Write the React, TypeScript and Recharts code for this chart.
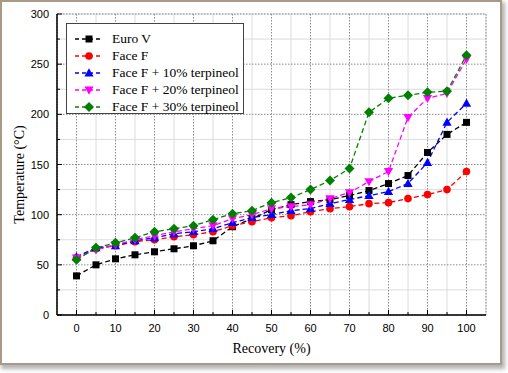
import React from 'react';
import { LineChart, Line, XAxis, YAxis, CartesianGrid, Legend } from 'recharts';

const recovery = [0, 5, 10, 15, 20, 25, 30, 35, 40, 45, 50, 55, 60, 65, 70, 75, 80, 85, 90, 95, 100];
const euroV = [39, 50, 56, 60, 63, 66, 69, 74, 88, 96, 105, 110, 113, 115, 119, 124, 131, 139, 162, 180, 192];
const faceF = [57, 66, 69, 73, 75, 78, 80, 83, 89, 93, 97, 99, 103, 106, 108, 111, 112, 116, 120, 125, 143];
const faceF10 = [58, 67, 69, 74, 77, 81, 83, 86, 92, 97, 100, 104, 106, 111, 115, 119, 123, 131, 152, 192, 211];
const faceF20 = [57, 65, 70, 75, 79, 83, 86, 89, 96, 100, 106, 108, 110, 116, 122, 133, 143, 197, 216, 221, 255];
const faceF30 = [55, 67, 72, 77, 83, 86, 89, 95, 101, 104, 112, 117, 125, 134, 146, 202, 216, 219, 222, 223, 259];

const xTicks = [0, 5, 10, 15, 20, 25, 30, 35, 40, 45, 50, 55, 60, 65, 70, 75, 80, 85, 90, 95, 100];
const xMajor = [0, 10, 20, 30, 40, 50, 60, 70, 80, 90, 100];
const xMinor = [5, 15, 25, 35, 45, 55, 65, 75, 85, 95];
const yTicks = [0, 25, 50, 75, 100, 125, 150, 175, 200, 225, 250, 275, 300];
const yMajor = [0, 50, 100, 150, 200, 250, 300];
const yMinor = [25, 75, 125, 175, 225, 275];

const series = [
  { key: 'euroV', name: 'Euro V', color: '#000000', shape: 'square', values: euroV },
  { key: 'faceF', name: 'Face F', color: '#ff0000', shape: 'circle', values: faceF },
  { key: 'faceF10', name: 'Face F + 10% terpineol', color: '#0000ff', shape: 'up', values: faceF10 },
  { key: 'faceF20', name: 'Face F + 20% terpineol', color: '#ff00ff', shape: 'down', values: faceF20 },
  { key: 'faceF30', name: 'Face F + 30% terpineol', color: '#008000', shape: 'diamond', values: faceF30 },
];

const data = recovery.map((r, i) => {
  const row: any = { r };
  series.forEach((s) => {
    row[s.key] = s.values[i];
  });
  return row;
});

const SANS = '"Liberation Sans", Arial, sans-serif';
const SERIF = '"Liberation Serif", "Times New Roman", serif';

function Marker({ shape, cx, cy, color }: { shape: string; cx: number; cy: number; color: string }) {
  switch (shape) {
    case 'square':
      return <rect x={cx - 3.5} y={cy - 3.5} width={7} height={7} fill={color} />;
    case 'circle':
      return <circle cx={cx} cy={cy} r={3.8} fill={color} />;
    case 'up':
      return <polygon points={`${cx},${cy - 4.8} ${cx + 4.6},${cy + 3.4} ${cx - 4.6},${cy + 3.4}`} fill={color} />;
    case 'down':
      return <polygon points={`${cx},${cy + 4.8} ${cx + 4.6},${cy - 3.4} ${cx - 4.6},${cy - 3.4}`} fill={color} />;
    default:
      return <polygon points={`${cx},${cy - 5} ${cx + 5},${cy} ${cx},${cy + 5} ${cx - 5},${cy}`} fill={color} />;
  }
}

const BottomTick = (p: any) => {
  const v = p.payload.value;
  const major = v % 10 === 0;
  return (
    <g>
      <line x1={p.x} x2={p.x} y1={p.y} y2={p.y - (major ? 5 : 3)} stroke="#000" strokeWidth={1} />
      {major && (
        <text x={p.x} y={p.y + 17} textAnchor="middle" fontSize={11} fontFamily={SANS} fill="#000">
          {v}
        </text>
      )}
    </g>
  );
};

const TopTick = (p: any) => {
  const v = p.payload.value;
  const major = v % 10 === 0;
  return <line x1={p.x} x2={p.x} y1={p.y} y2={p.y + (major ? 5 : 3)} stroke="#000" strokeWidth={1} />;
};

const LeftTick = (p: any) => {
  const v = p.payload.value;
  const major = v % 50 === 0;
  return (
    <g>
      <line x1={p.x} x2={p.x + (major ? 5 : 3)} y1={p.y} y2={p.y} stroke="#000" strokeWidth={1} />
      {major && (
        <text x={p.x - 8} y={p.y + 4} textAnchor="end" fontSize={11} fontFamily={SANS} fill="#000">
          {v}
        </text>
      )}
    </g>
  );
};

const RightTick = (p: any) => {
  const v = p.payload.value;
  const major = v % 50 === 0;
  return <line x1={p.x} x2={p.x - (major ? 5 : 3)} y1={p.y} y2={p.y} stroke="#000" strokeWidth={1} />;
};

const renderLegend = (props: any) => {
  const payload: any[] = props.payload || [];
  return (
    <div
      style={{
        width: 178,
        height: 91,
        boxSizing: 'border-box',
        border: '1px solid #444',
        background: '#fff',
        paddingTop: 6,
      }}
    >
      {payload.map((item: any) => {
        const s = series.find((x) => x.key === item.dataKey) || series[0];
        return (
          <div key={s.key} style={{ height: 17.2, display: 'flex', alignItems: 'center' }}>
            <svg width={28} height={14} style={{ marginLeft: 8, marginRight: 9, flex: 'none' }}>
              <line x1={0} x2={28} y1={7} y2={7} stroke={s.color} strokeWidth={1.3} strokeDasharray="4 3" />
              <Marker shape={s.shape} cx={14} cy={7} color={s.color} />
            </svg>
            <span style={{ fontFamily: SERIF, fontSize: 13.5, color: '#000', whiteSpace: 'nowrap', lineHeight: '14px' }}>
              {item.value}
            </span>
          </div>
        );
      })}
    </div>
  );
};

export default function App() {
  return (
    <div style={{ position: 'absolute', left: 0, top: 0, width: 508, height: 373, background: '#fff' }}>
      <div
        style={{
          position: 'absolute',
          left: 0,
          top: 0,
          width: 502,
          height: 365,
          boxSizing: 'border-box',
          border: '2px solid #a89a86',
          background: '#fff',
          boxShadow: '2px 3px 4px 1px rgba(0,0,0,0.3)',
        }}
      />
      <div style={{ position: 'absolute', left: 0, top: 0 }}>
        <LineChart width={508} height={373} data={data} margin={{ top: 14, right: 22, bottom: 0, left: 0 }}>
          <XAxis xAxisId="gx1" dataKey="r" type="number" domain={[-5, 105]} ticks={xMajor} interval={0} hide allowDataOverflow />
          <XAxis xAxisId="gx2" dataKey="r" type="number" domain={[-5, 105]} ticks={xMinor} interval={0} hide allowDataOverflow />
          <YAxis yAxisId="gy1" type="number" domain={[0, 300]} ticks={yMajor} interval={0} hide allowDataOverflow />
          <YAxis yAxisId="gy2" type="number" domain={[0, 300]} ticks={yMinor} interval={0} hide allowDataOverflow />
          <CartesianGrid xAxisId="gx2" yAxisId="gy2" stroke="#dcdcdc" strokeWidth={1} fill="none" />
          <CartesianGrid xAxisId="gx1" yAxisId="gy1" stroke="#8a8a8a" strokeWidth={1} strokeDasharray="1.5 1.5" fill="none" />
          <XAxis
            dataKey="r"
            type="number"
            domain={[-5, 105]}
            ticks={xTicks}
            interval={0}
            height={58}
            tickLine={false}
            tickSize={0}
            tickMargin={0}
            tick={BottomTick}
            axisLine={{ stroke: '#000', strokeWidth: 1.5 }}
            allowDataOverflow
            label={{
              content: (lp: any) => {
                const vb = lp.viewBox || {};
                return (
                  <text x={vb.x + vb.width / 2} y={vb.y + 38} textAnchor="middle" fontFamily={SERIF} fontSize={14} fill="#000">
                    Recovery (%)
                  </text>
                );
              },
            }}
          />
          <XAxis
            xAxisId="top"
            orientation="top"
            dataKey="r"
            type="number"
            domain={[-5, 105]}
            ticks={xTicks}
            interval={0}
            height={0}
            tickLine={false}
            tickSize={0}
            tickMargin={0}
            tick={TopTick}
            axisLine={{ stroke: '#000', strokeWidth: 1.5 }}
            allowDataOverflow
          />
          <YAxis
            type="number"
            domain={[0, 300]}
            ticks={yTicks}
            interval={0}
            width={57}
            tickLine={false}
            tickSize={0}
            tickMargin={0}
            tick={LeftTick}
            axisLine={{ stroke: '#000', strokeWidth: 1.5 }}
            allowDataOverflow
            label={{
              content: (lp: any) => {
                const vb = lp.viewBox || {};
                const cx = vb.x + 19;
                const cy = vb.y + vb.height / 2 + 10;
                return (
                  <text
                    x={cx}
                    y={cy}
                    transform={`rotate(-90 ${cx} ${cy})`}
                    textAnchor="middle"
                    dominantBaseline="central"
                    fontFamily={SERIF}
                    fontSize={14}
                    fill="#000"
                  >
                    Temperature (°C)
                  </text>
                );
              },
            }}
          />
          <YAxis
            yAxisId="right"
            orientation="right"
            type="number"
            domain={[0, 300]}
            ticks={yTicks}
            interval={0}
            width={0}
            tickLine={false}
            tickSize={0}
            tickMargin={0}
            tick={RightTick}
            axisLine={{ stroke: '#000', strokeWidth: 1.5 }}
            allowDataOverflow
          />
          <Legend
            layout="vertical"
            align="center"
            verticalAlign="middle"
            content={renderLegend}
            wrapperStyle={{ position: 'absolute', left: 66, top: 23, width: 178, height: 91 }}
          />
          {series.map((s) => (
            <Line
              key={s.key}
              dataKey={s.key}
              name={s.name}
              type="linear"
              stroke={s.color}
              strokeWidth={1.3}
              strokeDasharray="5 3"
              isAnimationActive={false}
              dot={(dp: any) => <Marker key={`${s.key}-${dp.index}`} shape={s.shape} cx={dp.cx} cy={dp.cy} color={s.color} />}
              activeDot={false}
            />
          ))}
        </LineChart>
      </div>
    </div>
  );
}
